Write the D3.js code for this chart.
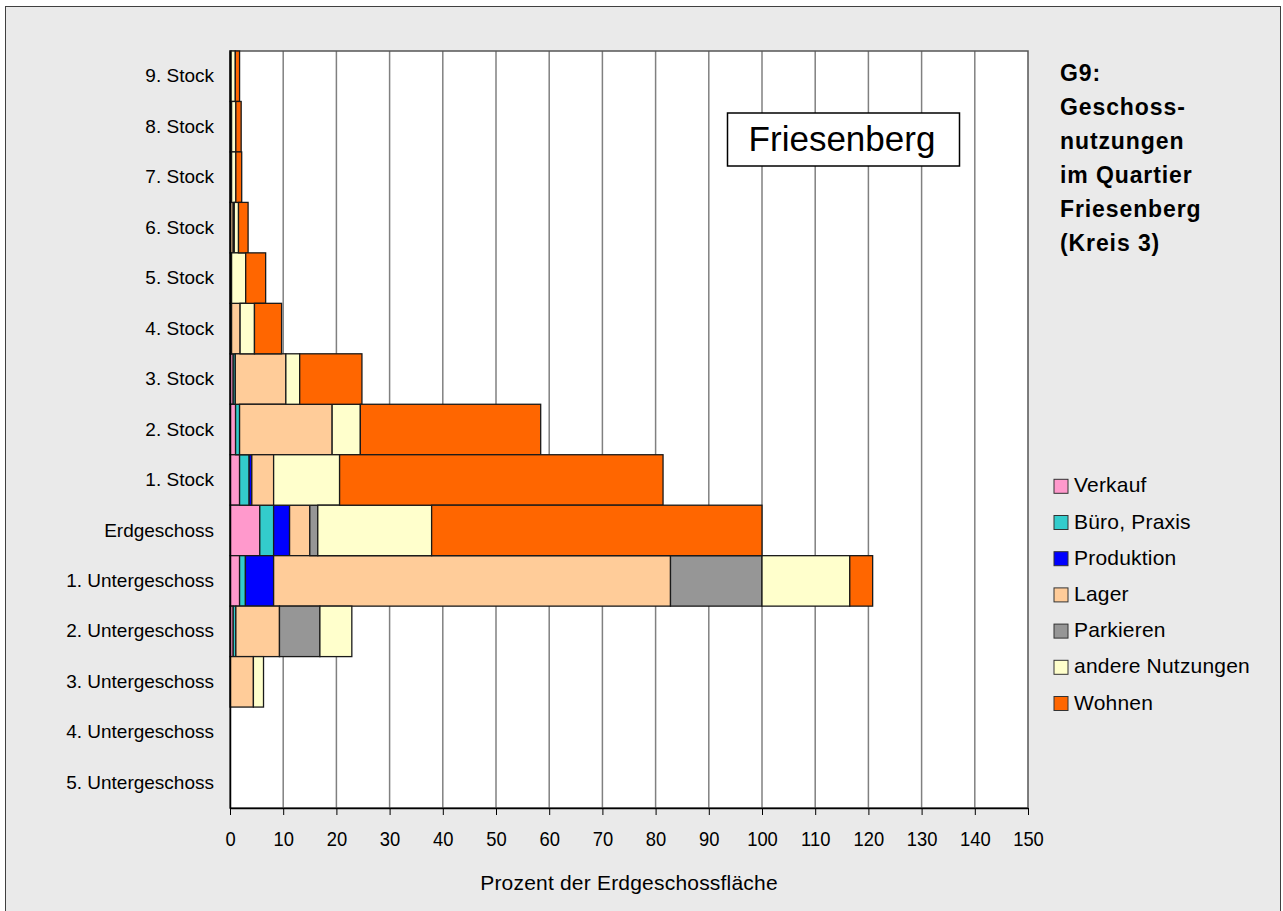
<!DOCTYPE html>
<html>
<head>
<meta charset="utf-8">
<script src="https://cdn.jsdelivr.net/npm/d3@7"></script>
<style>
  body { margin: 0; background: #fff; font-family: "Liberation Sans", Arial, sans-serif; }
</style>
</head>
<body>
<div id="chart"></div>
<script>
// Geschosse, top to bottom
const floors = [
  "9. Stock", "8. Stock", "7. Stock", "6. Stock", "5. Stock", "4. Stock",
  "3. Stock", "2. Stock", "1. Stock", "Erdgeschoss",
  "1. Untergeschoss", "2. Untergeschoss", "3. Untergeschoss",
  "4. Untergeschoss", "5. Untergeschoss",
];

const uses = ["Verkauf", "Büro, Praxis", "Produktion", "Lager", "Parkieren", "andere Nutzungen", "Wohnen"];
const useColors = ["#ff99cc", "#33cccc", "#0000ff", "#ffcc99", "#969696", "#ffffcc", "#ff6600"];

// Prozent der Erdgeschossfläche, one array per use, same order as floors
const verkauf = [0, 0, 0, 0.1, 0, 0.2, 0.6, 1.05, 1.8, 5.6, 1.8, 0.6, 0, 0, 0];
const buero = [0, 0, 0, 0, 0, 0.1, 0.4, 0.75, 1.8, 2.6, 1.1, 0.5, 0, 0, 0];
const produktion = [0, 0, 0, 0, 0, 0, 0, 0, 0.5, 3.0, 5.3, 0, 0, 0, 0];
const lager = [0.2, 0.3, 0.3, 0.5, 0.3, 1.6, 9.5, 17.4, 4.1, 3.8, 74.6, 8.2, 4.4, 0, 0];
const parkieren = [0, 0, 0, 0.2, 0, 0, 0, 0, 0, 1.5, 17.2, 7.6, 0, 0, 0];
const andere = [0.8, 0.8, 0.8, 0.8, 2.65, 2.7, 2.6, 5.3, 12.4, 21.4, 16.5, 6.0, 1.9, 0, 0];
const wohnen = [0.8, 1.0, 1.1, 1.8, 3.75, 5.1, 11.7, 33.9, 60.8, 62.1, 4.3, 0, 0, 0, 0];

const xTicks = d3.range(0, 151, 10);

const titleLines = ["G9:", "Geschoss-", "nutzungen", "im Quartier", "Friesenberg", "(Kreis 3)"];

function createFloorChart(containerId, options = {}) {
  const defaults = {
    width: 1283,
    height: 911,
    plot: { left: 230, right: 1028, top: 51, bottom: 808 },
    fontSize: 19,
  };
  const config = { ...defaults, ...options };

  d3.select(containerId).selectAll("*").remove();

  const svg = d3
    .select(containerId)
    .append("svg")
    .attr("width", config.width)
    .attr("height", config.height)
    .style("font-family", '"Liberation Sans", Arial, sans-serif');

  // chart area background + border
  svg.append("rect")
    .attr("x", 5.5).attr("y", 6.5)
    .attr("width", config.width - 8).attr("height", config.height)
    .attr("fill", "#eaeaea")
    .attr("stroke", "#404040")
    .attr("stroke-width", 1);

  const p = config.plot;

  // table for the stack
  const series = [verkauf, buero, produktion, lager, parkieren, andere, wohnen];
  const rows = floors.map((f, i) => {
    const row = { floor: f };
    uses.forEach((u, k) => (row[u] = series[k][i]));
    return row;
  });

  const stacked = d3.stack().keys(uses)(rows);

  // Scales
  const x = d3.scaleLinear().domain([0, 150]).range([p.left, p.right]);
  const y = d3.scaleBand().domain(floors).range([p.top, p.bottom]).padding(0);
  const color = d3.scaleOrdinal().domain(uses).range(useColors);

  // plot area
  svg.append("rect")
    .attr("x", p.left).attr("y", p.top)
    .attr("width", p.right - p.left).attr("height", p.bottom - p.top)
    .attr("fill", "#ffffff");

  // gridlines
  svg.append("g")
    .selectAll("line")
    .data(xTicks.filter((t) => t > 0 && t < 150))
    .enter()
    .append("line")
    .attr("x1", (d) => x(d)).attr("x2", (d) => x(d))
    .attr("y1", p.top).attr("y2", p.bottom)
    .attr("stroke", "#808080")
    .attr("stroke-width", 1.5);

  // plot border
  svg.append("rect")
    .attr("x", p.left).attr("y", p.top)
    .attr("width", p.right - p.left).attr("height", p.bottom - p.top)
    .attr("fill", "none")
    .attr("stroke", "#555")
    .attr("stroke-width", 1.5);

  // Bars
  svg.append("g")
    .selectAll("g")
    .data(stacked)
    .enter()
    .append("g")
    .attr("fill", (d) => color(d.key))
    .selectAll("rect")
    .data((d) => d.filter((s) => s[1] - s[0] > 0))
    .enter()
    .append("rect")
    .attr("x", (d) => x(d[0]))
    .attr("y", (d) => y(d.data.floor))
    .attr("width", (d) => x(d[1]) - x(d[0]))
    .attr("height", y.bandwidth())
    .attr("stroke", "#1a1a1a")
    .attr("stroke-width", 1.3);

  // X-axis
  const xAxis = svg.append("g")
    .attr("transform", `translate(0,${p.bottom})`)
    .call(d3.axisBottom(x).tickValues(xTicks).tickSize(7).tickPadding(17).tickSizeOuter(0));
  xAxis.select(".domain").attr("stroke", "#000").attr("stroke-width", 1.5);
  xAxis.selectAll(".tick line").attr("stroke", "#000");
  xAxis.selectAll("text")
    .attr("font-family", '"Liberation Sans", Arial, sans-serif')
    .attr("font-size", 20)
    .attr("transform", "scale(0.92,1)")
    .attr("fill", "#000");

  // Y labels
  const yAxis = svg.append("g")
    .attr("transform", `translate(${p.left},0)`)
    .call(d3.axisLeft(y).tickSize(0).tickPadding(16));
  yAxis.select(".domain").attr("stroke", "#000").attr("stroke-width", 1.5);
  yAxis.selectAll("text")
    .attr("font-family", '"Liberation Sans", Arial, sans-serif')
    .attr("font-size", config.fontSize)
    .attr("fill", "#000");

  // axis title
  svg.append("text")
    .attr("x", (p.left + p.right) / 2)
    .attr("y", 890)
    .attr("text-anchor", "middle")
    .attr("font-size", 21)
    .attr("letter-spacing", 0.2)
    .text("Prozent der Erdgeschossfläche");

  // Friesenberg box
  svg.append("rect")
    .attr("x", 727.5).attr("y", 113)
    .attr("width", 232).attr("height", 53)
    .attr("fill", "#fff")
    .attr("stroke", "#000")
    .attr("stroke-width", 1.5);
  svg.append("text")
    .attr("x", 842)
    .attr("y", 151)
    .attr("text-anchor", "middle")
    .attr("font-size", 35)
    .text("Friesenberg");

  // Title on the right
  svg.append("text")
    .attr("font-size", 23)
    .attr("font-weight", "bold")
    .attr("letter-spacing", 0.9)
    .selectAll("tspan")
    .data(titleLines)
    .enter()
    .append("tspan")
    .attr("x", 1060)
    .attr("y", (d, i) => 80.5 + i * 34)
    .text((d) => d);

  // Legend
  const legend = svg.append("g")
    .selectAll("g")
    .data(uses)
    .enter()
    .append("g")
    .attr("transform", (d, i) => `translate(1054,${486.3 + i * 36.2})`);
  legend.append("rect")
    .attr("x", 0).attr("y", -7)
    .attr("width", 14).attr("height", 14)
    .attr("fill", (d) => color(d))
    .attr("stroke", "#333")
    .attr("stroke-width", 1);
  legend.append("text")
    .attr("x", 20)
    .attr("y", 6)
    .attr("font-size", 21)
    .attr("letter-spacing", 0.2)
    .text((d) => d);

  return { svg, x, y };
}

createFloorChart("#chart");
</script>
</body>
</html>
